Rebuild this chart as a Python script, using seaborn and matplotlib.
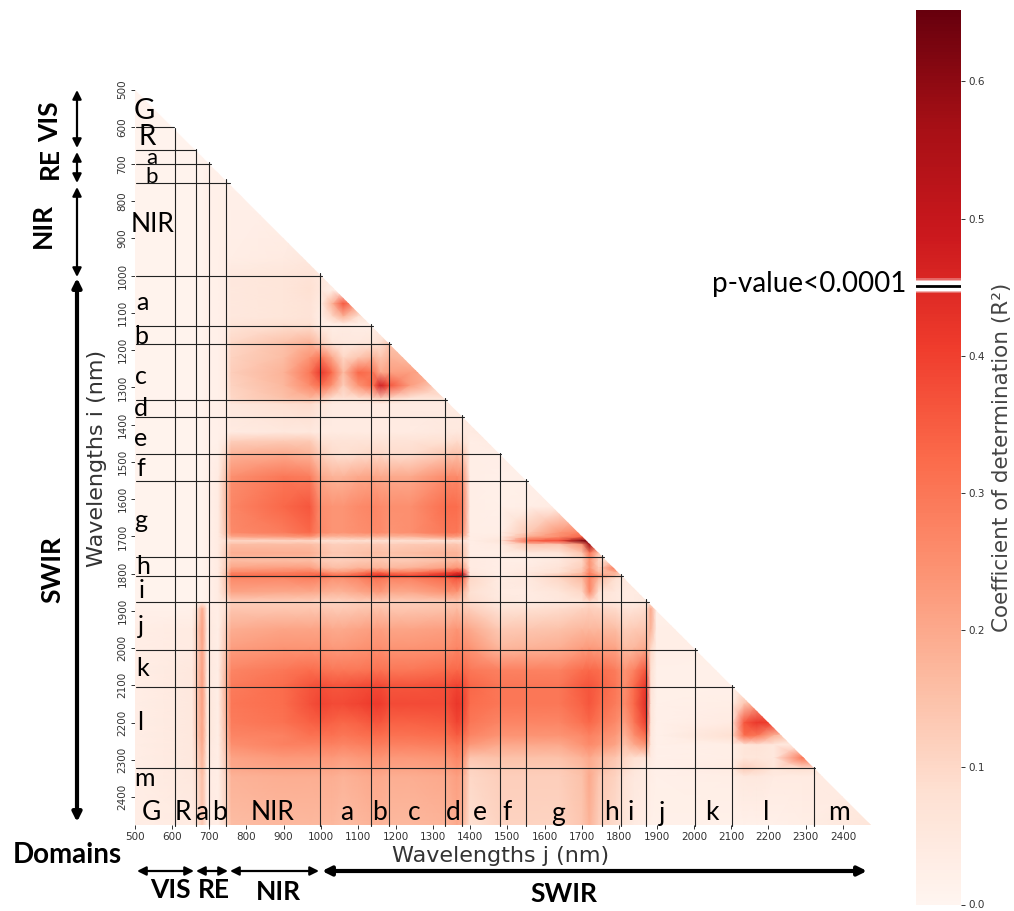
import numpy as np
import pandas as pd
import seaborn as sns
import matplotlib
matplotlib.use("Agg")
import matplotlib.pyplot as plt
from matplotlib.patches import Polygon

W, H = 1014, 911
TEXT_FONT = "Lato"

wl_j = [500, 655, 668, 682, 695, 725, 745, 760, 900, 970, 1000, 1030, 1060, 1100, 1140, 1160, 1185, 1240,
        1340, 1365, 1380, 1400, 1480, 1560, 1640, 1700, 1720, 1745, 1790, 1815, 1840, 1872, 1885, 1900,
        2100, 2135, 2170, 2215, 2290, 2475]
wl_i = [500, 750, 950, 1000, 1040, 1075, 1110, 1130, 1180, 1220, 1260, 1295, 1330, 1345, 1420, 1445, 1480,
        1540, 1620, 1690, 1702, 1712, 1722, 1745, 1765, 1785, 1798, 1806, 1814, 1850, 1876, 1895, 1950,
        2000, 2060, 2100, 2150, 2200, 2235, 2260, 2295, 2325, 2345, 2475]

# R2 x 100, one row per wl_i, read up to the diagonal
r2_rows = [
 [1],
 [1,1,1,1,2,2,2,2],
 [1,1,1,1,2,2,3,3,4,5],
 [1,1,1,1,2,2,3,5,6,7,5],
 [1,1,1,1,2,2,3,5,6,8,5,3,4],
 [1,1,1,1,2,2,3,5,6,7,4,18,36,20],
 [1,1,1,1,2,2,3,5,6,7,3,10,18,8,5],
 [1,1,1,1,2,2,3,6,8,8,3,3,4,3,3],
 [1,1,1,1,2,2,4,10,15,18,12,6,5,5,6,8,14],
 [1,1,1,1,2,2,4,11,16,24,30,20,10,14,18,14,18,16],
 [1,1,1,1,2,2,4,12,18,30,42,32,16,33,30,20,22,22,20],
 [1,1,1,1,2,2,4,11,17,26,32,24,12,24,32,48,36,22,8],
 [1,1,1,1,2,2,3,10,15,17,14,8,7,8,10,12,10,6,6],
 [1,1,1,1,2,2,3,5,8,9,6,4,4,4,4,4,4,4,4,4],
 [1,1,1,1,2,2,3,4,5,5,4,4,4,4,4,4,4,4,5,5,5,4,5],
 [1,1,1,1,2,2,5,12,13,13,8,7,7,7,7,7,7,7,8,9,8,3,4],
 [1,1,1,1,2,3,10,18,20,18,12,9,8,9,10,10,9,9,14,15,14,3,3,2],
 [1,1,1,1,2,4,15,25,30,29,20,18,18,20,21,20,20,20,26,26,24,3,2,2],
 [1,1,1,1,2,4,16,27,33,36,25,24,24,26,27,26,25,25,32,32,29,3,2,3,4],
 [1,1,1,1,2,4,15,26,29,33,26,24,24,25,26,26,24,25,30,30,26,3,3,14,24,28],
 [1,1,1,1,2,4,12,20,22,24,18,17,17,18,18,18,17,17,22,22,18,3,4,20,26,34,20],
 [1,1,1,1,2,4,8,10,10,10,8,8,8,8,8,8,8,8,8,8,7,3,6,34,38,62,60,40],
 [1,1,1,1,2,4,10,16,16,16,14,12,12,13,13,13,12,13,14,14,12,3,4,14,14,24,58,30],
 [1,1,1,1,2,4,12,19,19,19,16,14,14,15,16,16,15,16,18,18,15,3,3,5,6,14,30,14],
 [1,1,1,1,2,4,11,16,16,16,13,12,12,13,14,14,13,13,16,17,14,4,3,3,5,10,24,10,8],
 [1,1,1,1,2,4,12,21,22,22,18,16,16,18,18,18,17,18,22,24,22,4,3,4,7,12,24,12,30],
 [1,1,1,1,2,4,14,27,28,30,28,24,24,28,34,34,30,30,38,42,42,5,3,5,8,15,28,16,18,5],
 [1,1,1,1,2,4,15,32,32,33,36,32,32,36,42,44,40,38,46,54,58,6,3,6,14,20,30,24,16,5],
 [1,1,1,1,2,4,14,26,26,28,26,24,24,26,30,30,27,27,32,36,32,10,4,5,10,16,28,16,8,5,5],
 [1,1,1,1,2,4,12,21,20,20,19,18,18,20,22,23,20,20,24,24,18,8,4,4,6,10,26,8,5,4,4,4],
 [1,1,1,1,2,4,7,12,12,12,11,11,11,12,12,12,12,12,13,14,12,9,5,4,5,6,9,6,5,4,4,5,5],
 [2,2,8,20,4,3,8,14,14,14,14,13,13,14,15,15,14,14,15,16,14,12,7,8,9,11,12,11,9,7,7,9,20,2],
 [3,4,12,22,5,3,12,19,21,21,21,20,20,21,22,22,21,21,22,24,22,20,13,14,15,17,17,17,16,12,13,14,18,3],
 [3,4,12,21,5,3,14,22,24,24,24,23,23,24,25,25,24,24,25,27,26,24,17,18,19,22,23,22,21,16,17,20,10,3,2],
 [3,5,13,22,5,3,17,27,30,32,31,30,30,30,31,31,30,30,32,33,33,30,28,28,28,32,33,32,29,24,28,36,8,2,2],
 [3,5,14,22,5,3,18,29,32,36,37,36,36,37,38,38,36,36,37,39,38,33,30,30,30,35,36,34,30,25,32,42,7,2,2,2],
 [3,5,14,22,6,3,18,30,32,37,39,38,38,39,41,41,38,38,38,42,40,32,30,30,30,34,36,33,29,26,33,44,6,2,3,14,22],
 [3,5,14,21,6,3,17,29,31,34,35,34,33,34,36,36,34,34,35,39,37,30,27,27,27,31,33,30,26,22,30,40,6,2,4,36,42,40],
 [3,5,14,21,6,3,16,27,28,31,31,31,30,31,32,32,31,31,32,35,33,27,24,24,24,26,28,26,23,18,25,32,5,2,8,32,30,18,5],
 [3,5,12,20,5,3,15,25,28,28,28,28,27,28,29,29,28,28,29,31,29,23,20,20,20,24,26,24,21,15,20,24,5,2,3,6,7,5,5],
 [3,5,11,18,5,3,13,21,23,23,23,23,22,23,24,24,23,23,24,27,25,14,15,15,15,18,20,17,14,10,8,7,4,2,3,6,6,5,30,30],
 [3,5,10,17,4,3,12,20,21,21,21,21,20,21,22,22,21,21,22,24,22,11,13,13,13,16,19,16,12,9,6,4,3,2,4,12,10,6,8,3],
 [3,5,9,16,4,3,11,18,19,19,19,19,18,19,20,20,19,19,20,22,20,10,12,12,12,15,20,14,11,7,5,4,3,2,3,5,5,4,4,3],
 [3,4,8,14,4,3,10,16,17,17,17,17,16,17,18,18,17,17,18,20,18,8,11,11,11,14,18,12,9,6,4,3,2,2,2,2,2,2,3,6],
]

# band limits drawn over the matrix
limits_i = [601, 662, 700, 751, 1000, 1135, 1184, 1334, 1380, 1479, 1551, 1755, 1806, 1875, 2005, 2104, 2322]
limits_j = [608, 665, 700, 745, 997, 1134, 1182, 1333, 1378, 1480, 1550, 1753, 1804, 1871, 2003, 2102, 2322]

tick_values = list(range(500, 2401, 100))
cbar_ticks = [0.0, 0.1, 0.2, 0.3, 0.4, 0.5, 0.6]
p_threshold = 0.451

row_labels = [("G",144,111,21),("R",147,137,20),("a",152,158,16),("b",152,177,16),("NIR",153,224,19),
              ("a",142,302,18),("b",141,336,18),("c",141,376,18),("d",141,409,18),("e",141,438,18),
              ("f",141,469,18),("g",141,521,18),("h",143,567,18),("i",142,590,18),("j",141,627,18),
              ("k",143,669,18),("l",140,722,18),("m",145,779,18)]
col_labels = [("G",151),("R",183),("a",202),("b",220),("NIR",273),("a",347),("b",380),("c",414),("d",453),
              ("e",480),("f",507),("g",558),("h",611),("i",631),("j",662),("k",712),("l",766),("m",839)]

# ---------------------------------------------------------------------------
def fx(px): return px / W
def fy(py): return 1 - py / H

matrix = np.array([r + [r[-1]] * (len(wl_j) - len(r)) for r in r2_rows], dtype=float) / 100.0
df = pd.DataFrame(matrix, index=wl_i, columns=wl_j)

sns.set_theme(style="white", rc={"font.family": "DejaVu Sans"})
fig = plt.figure(figsize=(W / 100, H / 100), dpi=100)
ax = fig.add_axes([fx(134.5), fy(825), (871 - 134.5) / W, (825 - 89.5) / H])
cax = fig.add_axes([fx(916), fy(904.5), 45 / W, (904.5 - 10) / H])

sns.heatmap(df, ax=ax, cbar_ax=cax, cmap="Reds", vmin=0, vmax=0.652, shading="gouraud",
            cbar_kws={"ticks": cbar_ticks})
mesh = ax.collections[0]
X, Y = np.meshgrid(wl_j, wl_i)
mesh._coordinates = np.stack([X, Y], axis=-1).astype(float)
ax.set_xlim(500, 2475)
ax.set_ylim(2475, 500)
mesh.set_clip_path(Polygon([(500, 500), (2475, 2475), (500, 2475)], transform=ax.transData))

ax.set_xticks(tick_values, [str(v) for v in tick_values], rotation=0, fontsize=7.5, color="#333333")
ax.set_yticks(tick_values, [str(v) for v in tick_values], rotation=90, va="center", fontsize=7.5, color="#333333")
ax.tick_params(length=3, width=0.7, color="#333333", pad=2, bottom=True, left=True)
ax.set_xlabel("")
ax.set_ylabel("")

for v in limits_i:
    ax.plot([503, v + 4], [v, v], color="#222222", lw=0.8, clip_on=False)
for v in limits_j:
    ax.plot([v, v], [v - 4, 2478], color="#222222", lw=0.8, clip_on=False)

cax.tick_params(labelsize=7.5, length=3, width=0.7, colors="#333333", right=True, pad=2)
for half, alpha in [(0.0055, 0.3), (0.0045, 0.5), (0.0035, 1.0)]:
    cax.axhspan(p_threshold - half, p_threshold + half, color="white", alpha=alpha, lw=0)
cax.axhline(p_threshold, color="black", lw=2.0)

def put(s, x, y, size, **kw):
    kw.setdefault("family", TEXT_FONT)
    kw.setdefault("color", "black")
    fig.text(fx(x), fy(y), s, fontsize=size, ha="center", va="center", **kw)

for s, x, y, size in row_labels:
    put(s, x, y, size)
for s, x in col_labels:
    put(s, x, 813, 19)

put("Wavelengths j (nm)", 501, 856, 16, family="DejaVu Sans", color="#333333")
put("Wavelengths i (nm)", 97, 458, 16, family="DejaVu Sans", color="#333333", rotation=90)
put("Coefficient of determination (R²)", 1002, 457, 15.5, family="DejaVu Sans", color="#444444", rotation=90)
put("p-value<0.0001", 809, 284, 20)
put("Domains", 67, 855, 20, weight="bold")
for s, x, y in [("VIS", 170, 890), ("RE", 214, 890), ("NIR", 278, 892), ("SWIR", 564, 894)]:
    put(s, x, y, 19, weight="bold")
for s, x, y in [("VIS", 50, 122), ("RE", 50, 163), ("NIR", 43, 225), ("SWIR", 52, 570)]:
    put(s, x, y, 19, weight="bold", rotation=90)

def arrow(x0, y0, x1, y1, lw=1.6, scale=13):
    ax.annotate("", xy=(fx(x1), fy(y1)), xytext=(fx(x0), fy(y0)), xycoords="figure fraction",
                textcoords="figure fraction", annotation_clip=False,
                arrowprops=dict(arrowstyle="<|-|>", color="black", lw=lw, mutation_scale=scale,
                                shrinkA=0, shrinkB=0))

for y0, y1, lw in [(90, 148, 1.6), (152, 183, 1.6), (187, 277, 1.6), (278, 822, 3)]:
    arrow(77, y0, 77, y1, lw=lw)
for x0, x1, lw in [(137, 194, 1.6), (196, 228, 1.6), (230, 319, 1.6), (322, 867, 3)]:
    arrow(x0, 871, x1, 871, lw=lw)

fig.savefig("out.png", dpi=100, facecolor="white")
